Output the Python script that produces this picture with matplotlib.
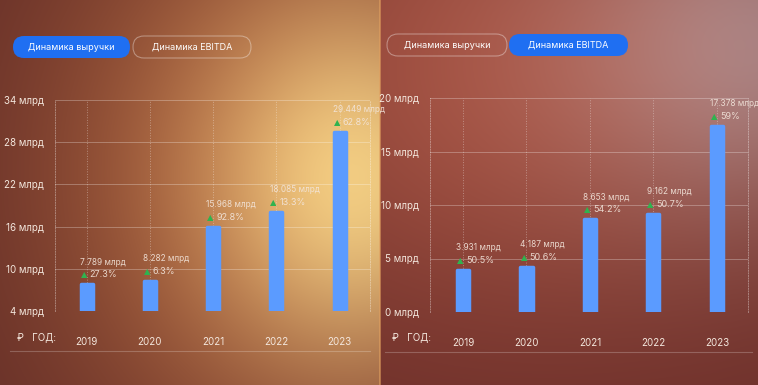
import matplotlib.pyplot as plt
import numpy as np
from matplotlib.patches import FancyBboxPatch

plt.rcParams['font.family'] = ['Inter', 'DejaVu Sans']

years = ['2019', '2020', '2021', '2022', '2023']
revenue = [7.789, 8.282, 15.968, 18.085, 29.449]
revenue_growth = ['27.3%', '6.3%', '92.8%', '13.3%', '62.8%']
ebitda = [3.931, 4.187, 8.653, 9.162, 17.378]
ebitda_growth = ['50.5%', '50.6%', '54.2%', '50.7%', '59%']
revenue_ticks = [4, 10, 16, 22, 28, 34]
ebitda_ticks = [0, 5, 10, 15, 20]

W, H = 758, 385
fig = plt.figure(figsize=(W / 100, H / 100), dpi=100)

# background: two gradient panels
yy, xx = np.mgrid[0:H, 0:W].astype(float)

dark = np.array([95, 42, 38])
orange = np.array([190, 110, 65])
yellow = np.array([243, 205, 130])
w1 = np.exp(-(((xx - 320) / 270) ** 2 + ((yy - 170) / 300) ** 2))[..., None]
w2 = np.exp(-(((xx - 360) / 150) ** 2 + ((yy - 180) / 180) ** 2))[..., None]
left = dark + (orange - dark) * w1 + (yellow - orange) * w2

rdark = np.array([105, 45, 40])
rmid = np.array([165, 82, 66])
rpink = np.array([195, 145, 140])
v1 = np.exp(-(((xx - 520) / 330) ** 2 + ((yy - 70) / 260) ** 2))[..., None]
v2 = np.exp(-(((xx - 770) / 200) ** 2 + ((yy - 40) / 180) ** 2))[..., None]
right = rdark + (rmid - rdark) * v1 + (rpink - rmid) * v2

img = np.where(xx[..., None] < 380, left, right)
img = np.clip(img, 0, 255) / 255

bg = fig.add_axes([0, 0, 1, 1])
bg.imshow(img, extent=(0, W, H, 0), aspect='auto')
bg.set_xlim(0, W)
bg.set_ylim(H, 0)
bg.axis('off')
bg.plot([380, 380], [0, H], color='#e0a060', lw=1.2, alpha=0.7)

# tab buttons
def button(x, y, w, h, label, active):
    if active:
        p = FancyBboxPatch((x, y), w, h, boxstyle='round,pad=0,rounding_size=11',
                           facecolor='#1f6ff2', edgecolor='none')
    else:
        p = FancyBboxPatch((x, y), w, h, boxstyle='round,pad=0,rounding_size=11',
                           facecolor='none', edgecolor=(1, 1, 1, 0.35), lw=0.8)
    bg.add_patch(p)
    bg.text(x + w / 2, y + h / 2 + 0.5, label, color='white', fontsize=6.5,
            ha='center', va='center')

button(13, 36, 117, 22, 'Динамика выручки', True)
button(133, 36, 118, 22, 'Динамика EBITDA', False)
button(387, 34, 120, 22, 'Динамика выручки', False)
button(509, 34, 119, 22, 'Динамика EBITDA', True)

for x0, x1, y in [(10, 370, 351), (385, 752, 352)]:
    bg.plot([x0, x1], [y, y], color='white', alpha=0.22, lw=0.8)
bg.text(17, 337, '₽   ГОД:', color='#f3e6dc', fontsize=7, va='center')
bg.text(392, 337, '₽   ГОД:', color='#f3e6dc', fontsize=7, va='center')

txt = '#f3e6dc'
green = '#2fb34f'
bar_c = '#5b9bff'
bw = 0.19


def chart(rect, vals, growth, ticks, xlim):
    ax = fig.add_axes(rect)
    ax.patch.set_alpha(0)
    x = np.arange(len(years))
    ax.bar(x, vals, width=bw, color=bar_c, edgecolor=bar_c, lw=2.5,
           joinstyle='round', zorder=3)
    ax.set_xlim(*xlim)
    ax.set_ylim(ticks[0], ticks[-1])
    ax.set_yticks(ticks)
    ax.set_yticklabels([f'{t} млрд' for t in ticks])
    ax.set_xticks(x)
    ax.set_xticklabels(years)
    ax.tick_params(axis='y', length=0, pad=8, labelsize=7, labelcolor=txt)
    ax.tick_params(axis='x', length=0, pad=19, labelsize=7, labelcolor=txt)
    ax.grid(axis='y', color='white', alpha=0.28, lw=0.7)
    ax.grid(axis='x', color='white', alpha=0.35, lw=0.7, ls=':')
    for s in ['top', 'bottom']:
        ax.spines[s].set_visible(False)
    for s in ['left', 'right']:
        ax.spines[s].set_color((1, 1, 1, 0.35))
        ax.spines[s].set_linestyle(':')
        ax.spines[s].set_linewidth(0.7)
    for i, (v, g) in enumerate(zip(vals, growth)):
        xl = i - bw / 2 - 0.01
        ax.annotate(f'{v:.3f} млрд', (xl, v), xytext=(0, 16), textcoords='offset points',
                    color=txt, alpha=0.9, fontsize=6.0, ha='left', va='center', zorder=4)
        ax.annotate('▲', (xl, v), xytext=(0.5, 7), textcoords='offset points',
                    color=green, fontsize=6, ha='left', va='center',
                    family='DejaVu Sans', zorder=4)
        ax.annotate(g, (xl, v), xytext=(7, 7), textcoords='offset points',
                    color=txt, alpha=0.9, fontsize=6.5, ha='left', va='center', zorder=4)
    return ax


chart([55 / W, (H - 311) / H, 315 / W, 211 / H], revenue, revenue_growth,
      revenue_ticks, (-0.5, 4.48))
chart([430 / W, (H - 312) / H, 318 / W, 214 / H], ebitda, ebitda_growth,
      ebitda_ticks, (-0.52, 4.49))

fig.savefig('out.png', dpi=100)
